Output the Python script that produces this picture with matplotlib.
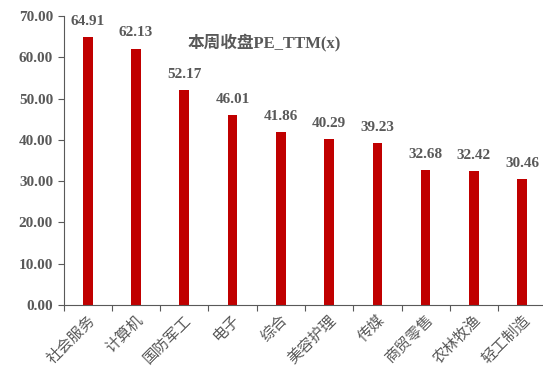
import matplotlib
matplotlib.use("Agg")
import matplotlib.pyplot as plt

# 行业与本周收盘PE_TTM
industries = ['社会服务', '计算机', '国防军工', '电子', '综合', '美容护理', '传媒', '商贸零售', '农林牧渔', '轻工制造']
pe_ttm = [64.91, 62.13, 52.17, 46.01, 41.86, 40.29, 39.23, 32.68, 32.42, 30.46]
y_ticks = [0, 10, 20, 30, 40, 50, 60, 70]

fonts = ['Liberation Serif', 'Noto Sans CJK SC', 'DejaVu Sans']
plt.rcParams['font.family'] = fonts
plt.rcParams['font.weight'] = 'bold'
grey = '#595959'

fig = plt.figure(figsize=(5.43, 3.74), dpi=100)
ax = fig.add_axes([0.117, 0.185, 0.883, 0.772])

x = range(len(industries))
ax.bar(x, pe_ttm, width=0.2, color='#C00000')

for i, v in zip(x, pe_ttm):
    ax.text(i, v + 2.2, '%.2f' % v, ha='center', va='bottom', fontsize=11,
            fontweight='bold', color=grey)

ax.set_xlim(-0.5, len(industries) - 0.57)
ax.set_ylim(0, 70)
ax.set_yticks(y_ticks)
ax.set_yticklabels(['%.2f' % t for t in y_ticks], fontsize=11, fontweight='bold', color=grey)

# 刻度在类别边界
ax.set_xticks([i - 0.5 for i in range(len(industries))])
ax.set_xticklabels([])
ax.set_xticks(list(x), minor=True)
ax.set_xticklabels(industries, minor=True, rotation=45, ha='right', va='top',
                   rotation_mode='anchor', fontsize=11, fontweight='normal', color=grey)
ax.tick_params(axis='x', which='minor', length=0, pad=6)
ax.tick_params(axis='x', which='major', length=4, color=grey)
ax.tick_params(axis='y', length=4, color=grey)

for s in ['top', 'right']:
    ax.spines[s].set_visible(False)
for s in ['left', 'bottom']:
    ax.spines[s].set_color(grey)

ax.text(0.418, 0.91, '本周收盘PE_TTM(x)', transform=ax.transAxes, ha='center', va='center',
        fontsize=12, fontweight='bold', color=grey)

fig.savefig('out.png', dpi=100)
